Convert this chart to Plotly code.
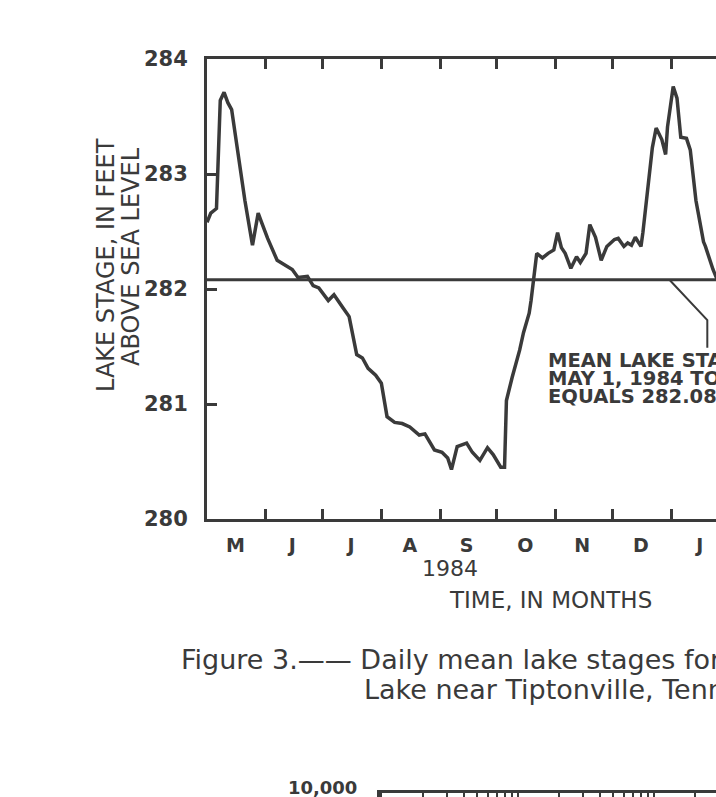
import plotly.graph_objects as go

# ---------------- data ----------------
dates = ["1984-05-01","1984-05-03","1984-05-06","1984-05-08","1984-05-10","1984-05-12","1984-05-14",
         "1984-05-17","1984-05-21","1984-05-25","1984-05-26","1984-05-28","1984-05-30","1984-06-02",
         "1984-06-07","1984-06-11","1984-06-15","1984-06-18","1984-06-23","1984-06-26","1984-06-29",
         "1984-07-04","1984-07-07","1984-07-12","1984-07-15","1984-07-19","1984-07-22","1984-07-25",
         "1984-07-29","1984-08-01","1984-08-04","1984-08-08","1984-08-12","1984-08-16","1984-08-21",
         "1984-08-24","1984-08-29","1984-09-02","1984-09-05","1984-09-07","1984-09-10","1984-09-15",
         "1984-09-18","1984-09-22","1984-09-26","1984-09-29","1984-10-03","1984-10-05","1984-10-06",
         "1984-10-09","1984-10-13","1984-10-15","1984-10-18","1984-10-19","1984-10-22","1984-10-25",
         "1984-10-28","1984-10-31","1984-11-02","1984-11-04","1984-11-06","1984-11-09","1984-11-12",
         "1984-11-14","1984-11-17","1984-11-19","1984-11-22","1984-11-25","1984-11-28","1984-12-02",
         "1984-12-04","1984-12-07","1984-12-09","1984-12-11","1984-12-13","1984-12-16","1984-12-17",
         "1984-12-22","1984-12-24","1984-12-27","1984-12-29","1984-12-30","1985-01-02","1985-01-04",
         "1985-01-06","1985-01-09","1985-01-11","1985-01-14","1985-01-16","1985-01-18","1985-01-19",
         "1985-01-23","1985-01-26","1985-01-30"]
stage = [282.58,282.66,282.70,283.64,283.71,283.62,283.56,
         283.21,282.77,282.38,282.49,282.66,282.57,282.44,
         282.25,282.21,282.17,282.10,282.11,282.03,282.01,
         281.90,281.95,281.83,281.76,281.43,281.40,281.31,
         281.25,281.18,280.89,280.84,280.83,280.80,280.73,
         280.74,280.60,280.58,280.53,280.43,280.63,280.66,
         280.58,280.51,280.62,280.56,280.45,280.45,281.03,
         281.23,281.47,281.62,281.79,281.90,282.31,282.27,
         282.31,282.34,282.49,282.36,282.31,282.18,282.28,
         282.23,282.31,282.56,282.45,282.25,282.37,282.43,
         282.44,282.37,282.40,282.38,282.45,282.37,282.49,
         283.23,283.40,283.30,283.17,283.41,283.76,283.66,
         283.32,283.31,283.21,282.77,282.60,282.41,282.37,
         282.17,282.05,281.95]

mean_stage = 282.08
month_starts = ["1984-05-01","1984-06-01","1984-07-01","1984-08-01","1984-09-01","1984-10-01",
                "1984-11-01","1984-12-01","1985-01-01","1985-02-01","1985-03-01","1985-04-01","1985-05-01"]
month_mids = ["1984-05-16","1984-06-15","1984-07-16","1984-08-16","1984-09-15","1984-10-16",
              "1984-11-15","1984-12-16","1985-01-16","1985-02-14","1985-03-16","1985-04-15"]
month_letters = ["M","J","J","A","S","O","N","D","J","F","M","A"]
y_ticks = [280, 281, 282, 283, 284]
leader_x = ["1984-12-31", "1985-01-20", "1985-01-20"]
leader_y = [282.08, 281.73, 281.49]
log_ticks = [1,2,3,4,5,6,7,8,9,10,20,30,40,50,60,70,80,90,100,200,300]
lower_y_ticks = [10000]
lower_y_text = ["10,000"]

# ---------------- layout helpers ----------------
W, H = 716, 797
INK = "#3a3a3a"
FONT = "DejaVu Sans"
def px(x): return x / W
def py(y): return 1 - y / H

fig = go.Figure()
fig.add_trace(go.Scatter(x=dates, y=stage, mode="lines", line=dict(color=INK, width=3.5),
                         xaxis="x", yaxis="y", showlegend=False, hoverinfo="skip"))
# invisible helper trace for month-label axis
fig.add_trace(go.Scatter(x=month_mids, y=[282]*len(month_mids), mode="markers",
                         marker=dict(opacity=0), xaxis="x3", yaxis="y", showlegend=False, hoverinfo="skip"))
# leader line
fig.add_trace(go.Scatter(x=leader_x, y=leader_y, mode="lines", line=dict(color=INK, width=2),
                         xaxis="x", yaxis="y", showlegend=False, hoverinfo="skip"))
# partial lower chart helper trace
fig.add_trace(go.Scatter(x=[2], y=[9995], mode="markers", marker=dict(opacity=0),
                         xaxis="x2", yaxis="y2", showlegend=False, hoverinfo="skip"))

x_range = ["1984-05-01", "1985-01-24 14:00"]

fig.update_layout(
    width=W, height=H, margin=dict(l=0, r=0, t=0, b=0, autoexpand=False),
    paper_bgcolor="white", plot_bgcolor="white",
    font=dict(family=FONT, color=INK),
    xaxis=dict(domain=[px(207), 1], range=x_range, type="date",
               tickvals=month_starts, showticklabels=False,
               ticks="inside", ticklen=10, tickwidth=2.5, tickcolor=INK,
               showline=True, linewidth=3, linecolor=INK, mirror="ticks",
               showgrid=False, zeroline=False, anchor="y"),
    xaxis3=dict(domain=[px(207), 1], range=x_range, type="date", overlaying="x", matches="x",
                tickvals=month_mids, ticktext=month_letters, ticks="", showline=False,
                showgrid=False, zeroline=False, anchor="y", side="bottom",
                ticklabelstandoff=13,
                tickfont=dict(family=FONT, size=19, color=INK, weight="bold")),
    yaxis=dict(domain=[py(519), py(59)], range=[280, 284],
               tickvals=y_ticks, ticktext=[str(v) for v in y_ticks],
               ticks="inside", ticklen=10, tickwidth=2.5, tickcolor=INK,
               showline=True, linewidth=3, linecolor=INK, mirror=False,
               showgrid=False, zeroline=False, anchor="x",
               ticklabelstandoff=12,
               tickfont=dict(family=FONT, size=21, color=INK, weight="bold")),
    xaxis2=dict(domain=[px(382), 1], type="log", range=[0, (716 - 382) / 136],
                tickvals=log_ticks, showticklabels=False, side="top",
                ticks="inside", ticklen=8, tickwidth=2, tickcolor=INK,
                showline=True, linewidth=3, linecolor=INK,
                showgrid=False, zeroline=False, anchor="y2"),
    yaxis2=dict(domain=[0, 4 / H], type="log", range=[3.99, 4.0001],
                tickvals=lower_y_ticks, ticktext=lower_y_text, ticks="",
                showline=True, linewidth=5, linecolor=INK,
                showgrid=False, zeroline=False, anchor="x2",
                ticklabelstandoff=16, ticklabeloverflow="allow", ticklabelshift=-5,
                tickfont=dict(family=FONT, size=18, color=INK, weight="bold")),
)

# mean line
fig.add_shape(type="line", xref="x domain", yref="y", x0=0, x1=1, y0=mean_stage, y1=mean_stage,
              line=dict(color=INK, width=3))

def text(t, x, y, size, xanchor="center", bold=False, angle=0):
    return dict(text=t, x=px(x), y=py(y), xref="paper", yref="paper", showarrow=False,
                xanchor=xanchor, yanchor="middle", textangle=angle,
                font=dict(family=FONT, size=size, color=INK, weight="bold" if bold else "normal"))

ann = []
# y-axis title (two rotated lines)
ann.append(text("LAKE STAGE, IN FEET", 106, 265, 24, angle=-90))
ann.append(text("ABOVE SEA LEVEL", 131, 257, 24, angle=-90))
# year & axis title
ann.append(text("1984", 450, 568, 22))
ann.append(text("TIME, IN MONTHS", 550, 600, 23))
# mean label
for i, line in enumerate(["MEAN LAKE STAGE,", "MAY 1, 1984 TO APRIL 30, 1985,", "EQUALS 282.08 FEET"]):
    ann.append(text(line, 546, 360 + 18.5 * i, 19.5, xanchor="left", bold=True))
# caption
ann.append(text("Figure 3.—— Daily mean lake stages for Reelfoot", 179, 659, 27, xanchor="left"))
ann.append(text("Lake near Tiptonville, Tennessee, 1984-85", 362, 689, 27, xanchor="left"))
fig.update_layout(annotations=ann)

fig.write_html("out.html")
